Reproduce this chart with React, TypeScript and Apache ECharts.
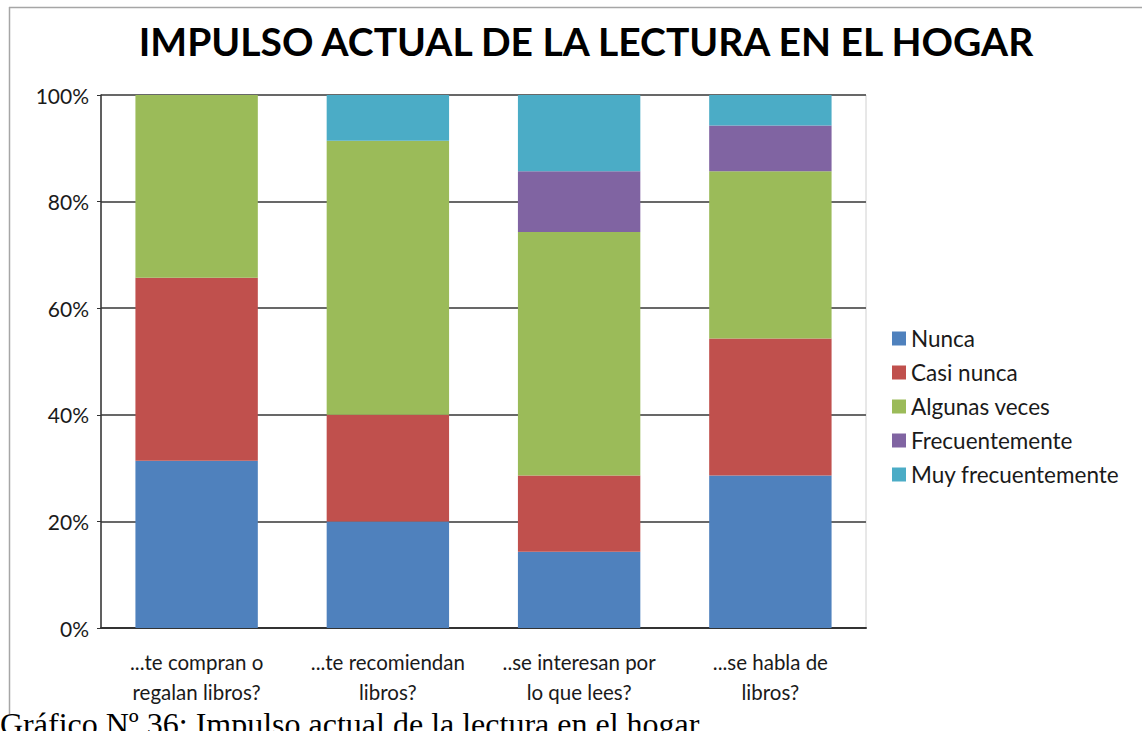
import React, { useEffect, useRef } from "react";
import * as echarts from "echarts";

const categories = [
  "...te compran o\nregalan libros?",
  "...te recomiendan\nlibros?",
  "..se interesan por\nlo que lees?",
  "...se habla de\nlibros?",
];
const seriesNames = ["Nunca", "Casi nunca", "Algunas veces", "Frecuentemente", "Muy frecuentemente"];
const nunca = [31.4, 20.0, 14.3, 28.6];
const casiNunca = [34.3, 20.0, 14.3, 25.7];
const algunasVeces = [34.3, 51.4, 45.7, 31.4];
const frecuentemente = [0, 0, 11.4, 8.6];
const muyFrecuentemente = [0, 8.6, 14.3, 5.7];
const yTicks = [0, 20, 40, 60, 80, 100];
const colors = ["#4F81BD", "#C0504D", "#9BBB59", "#8064A2", "#4BACC6"];
const title = "IMPULSO ACTUAL DE LA LECTURA EN EL HOGAR";
const caption = "Gráfico Nº 36: Impulso actual de la lectura en el hogar";

export default function App() {
  const ref = useRef<HTMLDivElement>(null);
  useEffect(() => {
    document.body.style.margin = "0";
    const chart = echarts.init(ref.current!, null, { renderer: "svg" });
    const values = [nunca, casiNunca, algunasVeces, frecuentemente, muyFrecuentemente];
    const font = "Lato, 'Open Sans', sans-serif";
    chart.setOption({
      animation: false,
      backgroundColor: "#ffffff",
      title: {
        text: title,
        left: 581,
        textAlign: "center",
        top: 16,
        textStyle: { fontFamily: font, fontSize: 39, fontWeight: "bold", color: "#000" },
      },
      grid: {
        left: 101,
        right: 276,
        top: 95,
        bottom: 103,
        show: true,
        borderColor: "#d0d0d0",
        borderWidth: 1,
      },
      legend: {
        orient: "vertical",
        left: 887,
        top: 322,
        itemWidth: 14,
        itemHeight: 14,
        itemGap: 11,
        icon: "rect",
        data: seriesNames,
        textStyle: { fontFamily: font, fontSize: 22.5, color: "#1a1a1a" },
      },
      xAxis: {
        type: "category",
        data: categories,
        axisLine: { lineStyle: { color: "#333", width: 2 } },
        axisTick: { show: false },
        axisLabel: {
          fontFamily: font,
          fontSize: 20.5,
          lineHeight: 30,
          color: "#1a1a1a",
          margin: 19,
          interval: 0,
        },
      },
      yAxis: {
        type: "value",
        min: 0,
        max: 100,
        interval: 20,
        axisLine: { show: true, lineStyle: { color: "#333", width: 1.5 } },
        axisTick: { show: true, length: 4, lineStyle: { color: "#333" } },
        axisLabel: {
          formatter: (v: number) => (yTicks.includes(v) ? v + "%" : ""),
          fontFamily: font,
          fontSize: 21,
          color: "#1a1a1a",
          margin: 12,
        },
        splitLine: { lineStyle: { color: "#686868", width: 2 } },
      },
      series: seriesNames.map((name, i) => ({
        name,
        type: "bar",
        stack: "total",
        barWidth: "64%",
        data: values[i],
        itemStyle: { color: colors[i] },
      })),
      graphic: [
        {
          type: "line",
          shape: { x1: 9, y1: 7.5, x2: 1142, y2: 7.5 },
          style: { stroke: "#a6a6a6", lineWidth: 1.5 },
          silent: true,
        },
        {
          type: "line",
          shape: { x1: 9.5, y1: 7, x2: 9.5, y2: 714 },
          style: { stroke: "#a6a6a6", lineWidth: 1.5 },
          silent: true,
        },
        {
          type: "text",
          x: 0,
          y: 724,
          style: {
            text: caption,
            fontFamily: "'Liberation Serif', 'Times New Roman', serif",
            fontSize: 32,
            fill: "#000",
            verticalAlign: "middle",
          },
          silent: true,
        },
      ],
    });
    return () => chart.dispose();
  }, []);
  return <div ref={ref} style={{ position: "absolute", left: 0, top: 0, width: 1142, height: 731 }} />;
}
